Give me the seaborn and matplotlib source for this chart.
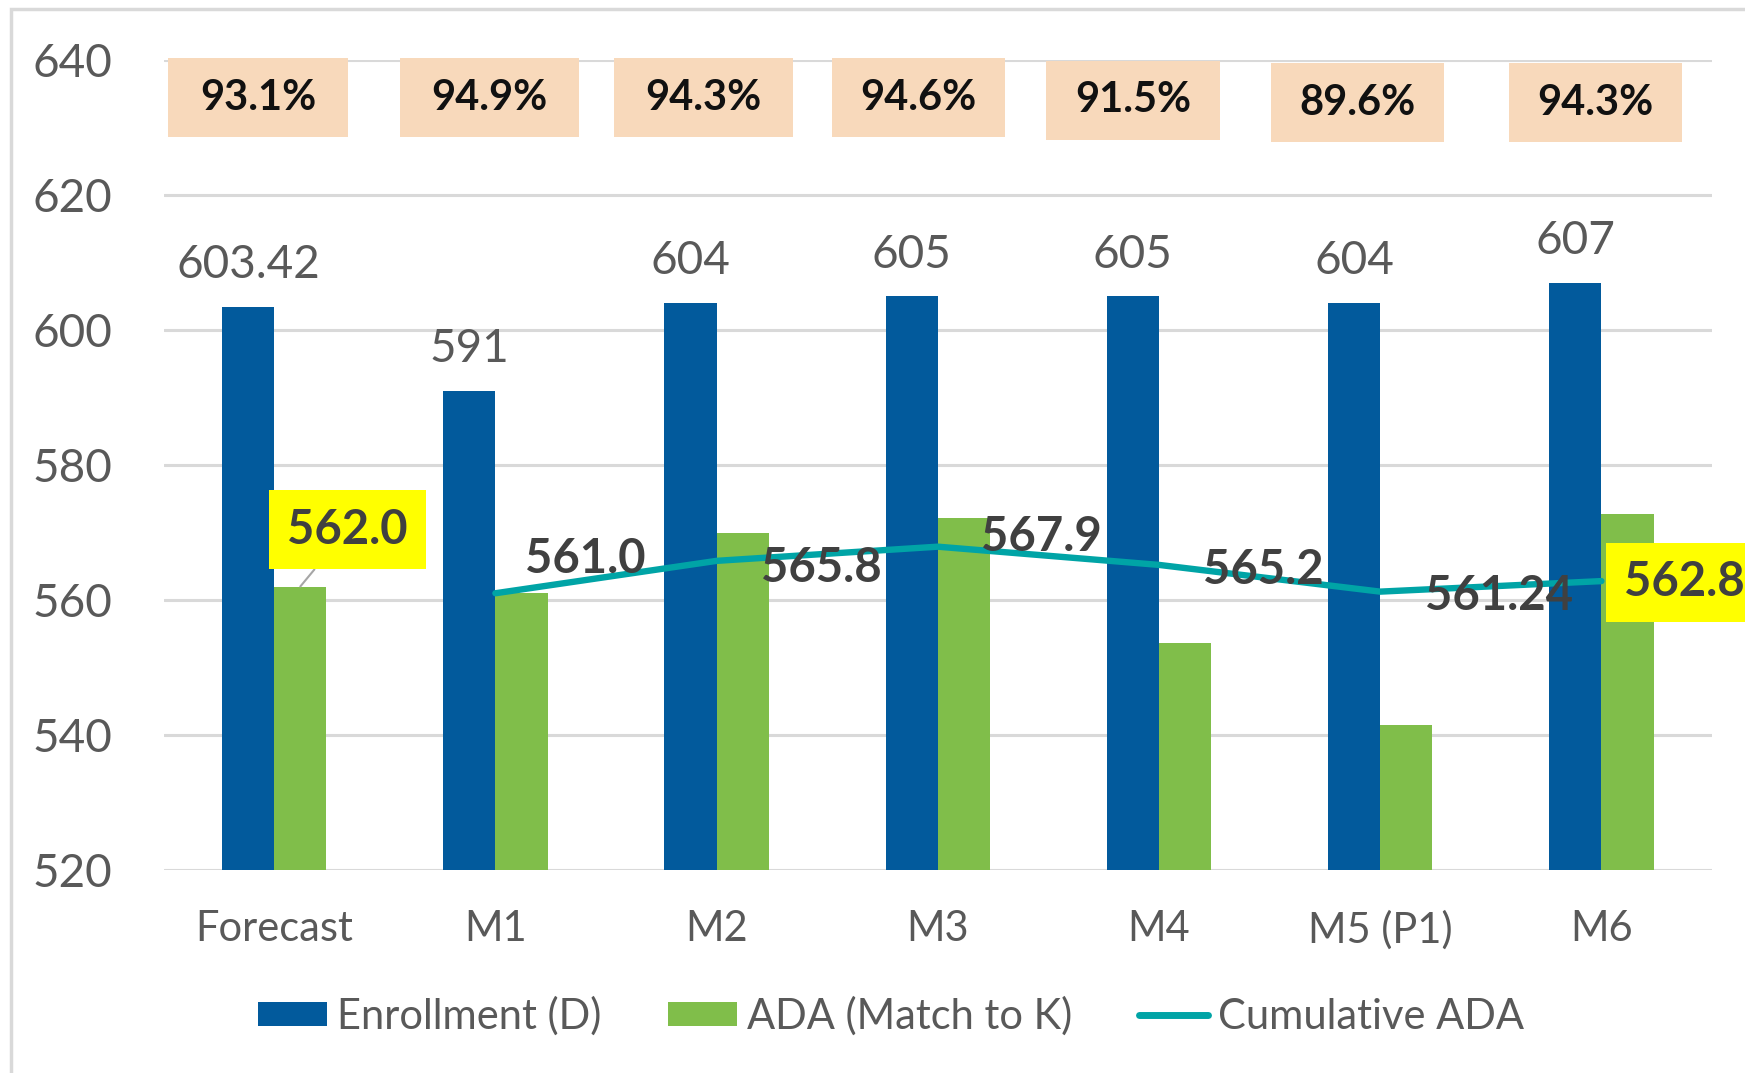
import numpy as np
import pandas as pd
import matplotlib
matplotlib.use("Agg")
import matplotlib.pyplot as plt
import seaborn as sns
from matplotlib.patches import Rectangle, Patch
from matplotlib.lines import Line2D

# ---------------- data ----------------
categories = ["Forecast", "M1", "M2", "M3", "M4", "M5 (P1)", "M6"]
enrollment = [603.42, 591, 604, 605, 605, 604, 607]
enrollment_labels = ["603.42", "591", "604", "605", "605", "604", "607"]
ada = [562.0, 561.0, 569.9, 572.1, 553.7, 541.5, 572.8]
cumulative_ada = [None, 561.0, 565.8, 567.9, 565.2, 561.24, 562.8]
cumulative_labels = ["", "561.0", "565.8", "567.9", "565.2", "561.24", "562.8"]
forecast_ada_label = "562.0"
pct_labels = ["93.1%", "94.9%", "94.3%", "94.6%", "91.5%", "89.6%", "94.3%"]
y_ticks = [520, 540, 560, 580, 600, 620, 640]
series_names = ["Enrollment (D)", "ADA (Match to K)", "Cumulative ADA"]

# ---------------- style ----------------
BLUE = "#025A9C"
GREEN = "#80BE4A"
TEAL = "#00A4A6"
PEACH = "#F8D9BB"
YELLOW = "#FFFF00"
GRID = "#D9D9D9"
TXT = "#595959"
DARK = "#404040"
FS = 30        # words
FS_NUM = 33    # plain numbers
FS_BOLD = 34   # bold data labels

sns.set_theme(style="white")
plt.rcParams["font.family"] = ["Lato", "DejaVu Sans"]

fig = plt.figure(figsize=(17.45, 10.73), dpi=100)
ax = fig.add_axes([163.6 / 1745, 1 - 870 / 1073, (1712 - 163.6) / 1745, (870 - 60) / 1073])

df = pd.DataFrame({
    "Month": categories * 2,
    "Series": [series_names[0]] * len(categories) + [series_names[1]] * len(categories),
    "Value": list(enrollment) + list(ada),
})

sns.barplot(data=df, x="Month", y="Value", hue="Series", order=categories,
            hue_order=series_names[:2], palette=[BLUE, GREEN], width=0.472,
            saturation=1, linewidth=0, ax=ax, legend=False, errorbar=None)

line_x = [i for i, v in enumerate(cumulative_ada) if v is not None]
line_y = [v for v in cumulative_ada if v is not None]
sns.lineplot(x=line_x, y=line_y, color=TEAL, linewidth=4.6, ax=ax, legend=False,
             solid_capstyle="round", zorder=4)

ax.set_xlim(-0.5, len(categories) - 0.5)
ax.set_ylim(y_ticks[0], y_ticks[-1])
ax.set_yticks(y_ticks)
ax.set_xticks(range(len(categories)))
ax.set_xticklabels(categories)
ax.set_xlabel("")
ax.set_ylabel("")
ax.grid(axis="y", color=GRID, linewidth=2.2)
ax.set_axisbelow(True)
for s in ax.spines.values():
    s.set_visible(False)
ax.tick_params(axis="y", length=0, pad=37, labelsize=FS_NUM, labelcolor=TXT)
ax.tick_params(axis="x", length=0, pad=29, labelsize=FS, labelcolor=TXT)

# enrollment labels above blue bars
blue_bars = ax.containers[0]
for bar, lbl in zip(blue_bars, enrollment_labels):
    ax.annotate(lbl, xy=(bar.get_x() + bar.get_width() / 2, bar.get_height()),
                xytext=(0, 30), textcoords="offset points", ha="center", va="center",
                fontsize=FS_NUM, color=TXT)

# forecast ADA label in yellow box with leader line
green_bars = ax.containers[1]
gb = green_bars[0]
ax.annotate(forecast_ada_label, xy=(gb.get_x() + gb.get_width() / 2, gb.get_height()),
            xytext=(34, 41), textcoords="offset points", ha="center", va="center",
            fontsize=FS_BOLD, fontweight="bold", color=DARK,
            bbox=dict(boxstyle="square,pad=0.38", fc=YELLOW, ec="none"),
            arrowprops=dict(arrowstyle="-", color="#A6A6A6", lw=1.5, shrinkA=0, shrinkB=0),
            zorder=6)

# cumulative labels
cum_offsets = [None, (21, 25), (32, -5), (31, 7), (32, -4), (32, -3), (16, -1)]
for i, (v, lbl) in enumerate(zip(cumulative_ada, cumulative_labels)):
    if v is None:
        continue
    kw = {}
    if i == len(categories) - 1:
        kw["bbox"] = dict(boxstyle="square,pad=0.38", fc=YELLOW, ec="none")
    ax.annotate(lbl, xy=(i, v), xytext=cum_offsets[i], textcoords="offset points",
                ha="left", va="center", fontsize=FS_BOLD, fontweight="bold", color=DARK,
                zorder=6, annotation_clip=False, **kw)

# percentage boxes at the top
box_dx = [-0.073, -0.028, -0.059, -0.087, -0.118, -0.103, -0.026]
box_w = [0.81, 0.81, 0.81, 0.785, 0.785, 0.785, 0.78]
box_yc = [634.4, 634.4, 634.4, 634.4, 634.0, 633.7, 633.7]
box_h = 11.7
for i, p in enumerate(pct_labels):
    xc = i + box_dx[i]
    ax.add_patch(Rectangle((xc - box_w[i] / 2, box_yc[i] - box_h / 2), box_w[i], box_h,
                           facecolor=PEACH, edgecolor="none", zorder=5, clip_on=False))
    ax.text(xc, box_yc[i], p, ha="center", va="center", fontsize=FS,
            fontweight="bold", color="#111111", zorder=6)

# legend
handles = [Patch(facecolor=BLUE, edgecolor="none"),
           Patch(facecolor=GREEN, edgecolor="none"),
           Line2D([0], [0], color=TEAL, lw=5, solid_capstyle="round")]
leg = fig.legend(handles, series_names, loc="center", ncol=3,
                 bbox_to_anchor=(891 / 1745, 1 - 1016 / 1073), frameon=False,
                 fontsize=FS, handlelength=1.65, handleheight=0.5, handletextpad=0.25,
                 columnspacing=1.6)
for t in leg.get_texts():
    t.set_color(TXT)

# outer chart border
fig.add_artist(Rectangle((11 / 1745, -0.1), 1.2, 1 - 9 / 1073 + 0.1,
                         transform=fig.transFigure, facecolor="none",
                         edgecolor=GRID, linewidth=2.5))

fig.savefig("out.png", dpi=100)
